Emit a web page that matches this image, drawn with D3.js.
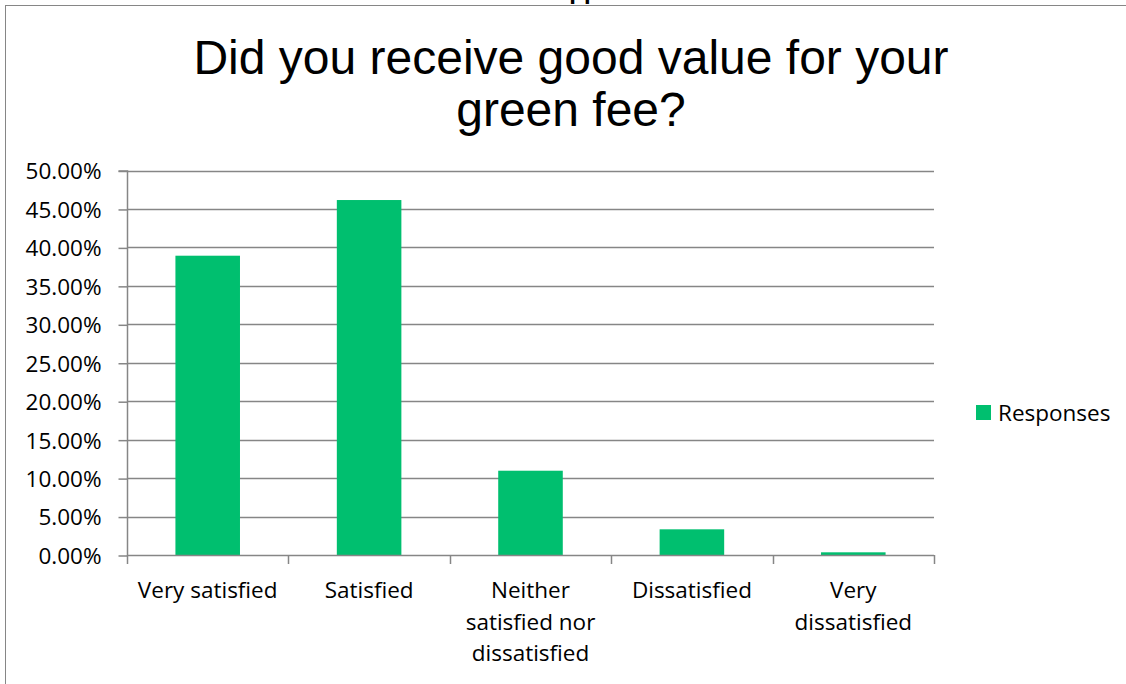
<!DOCTYPE html>
<html><head><meta charset="utf-8">
<script src="https://cdn.jsdelivr.net/npm/d3@7"></script>
<style>body{margin:0;background:#fff}svg{display:block}</style>
</head><body>
<script>
const categories = ["Very satisfied", "Satisfied", "Neither satisfied nor dissatisfied", "Dissatisfied", "Very dissatisfied"];
const categoryLines = [["Very satisfied"], ["Satisfied"], ["Neither", "satisfied nor", "dissatisfied"], ["Dissatisfied"], ["Very", "dissatisfied"]];
const responses = [0.3892, 0.4616, 0.1096, 0.0334, 0.0035];
const yTicks = [0, 0.05, 0.10, 0.15, 0.20, 0.25, 0.30, 0.35, 0.40, 0.45, 0.50];
const titleLines = ["Did you receive good value for your", "green fee?"];
const seriesName = "Responses";

const W = 1126, H = 684;
const svg = d3.select("body").append("svg").attr("width", W).attr("height", H);
const grey = "#868686", green = "#00BF6F";
const axisFont = "'Open Sans', 'Noto Sans', sans-serif";
const axisSize = 22.5;

// clipped header text above chart border
svg.append("text").attr("x", 552).attr("y", -1).attr("font-family", "'Liberation Sans', Arial, sans-serif")
  .attr("font-weight", "bold").attr("font-size", 24).attr("fill", "#000").text("Appendix");

// chart border
svg.append("rect").attr("x", 5.5).attr("y", 5.5).attr("width", W + 10).attr("height", H + 10)
  .attr("fill", "#fff").attr("stroke", grey).attr("stroke-width", 1);

// title
svg.append("g").selectAll("text").data(titleLines).join("text")
  .attr("x", 571).attr("y", (d, i) => 74 + i * 52).attr("text-anchor", "middle")
  .attr("font-family", "'Liberation Sans', Arial, sans-serif").attr("font-size", 48).attr("fill", "#000")
  .text(d => d);

const x = d3.scaleBand().domain(categories).range([127, 934]).paddingInner(0.6).paddingOuter(0.3);
const y = d3.scaleLinear().domain([0, 0.5]).range([555, 170.5]);

// gridlines
svg.append("g").selectAll("line").data(yTicks.filter(t => t > 0)).join("line")
  .attr("x1", 127).attr("x2", 934).attr("y1", d => Math.round(y(d)) + 0.5).attr("y2", d => Math.round(y(d)) + 0.5)
  .attr("stroke", grey).attr("stroke-width", 1.5);

// bars
svg.append("g").selectAll("rect").data(responses).join("rect")
  .attr("x", (d, i) => x(categories[i])).attr("width", x.bandwidth())
  .attr("y", d => y(d)).attr("height", d => y(0) - y(d)).attr("fill", green);

// y axis
const yAxis = d3.axisLeft(y).tickValues(yTicks).tickFormat(d => (d * 100).toFixed(2) + "%").tickSize(9).tickPadding(17);
const gy = svg.append("g").attr("transform", "translate(127.5,0.5)").call(yAxis);
gy.select(".domain").attr("stroke", grey).attr("stroke-width", 1.5).attr("d", `M-9,${y(0.5)}H0V${y(0)}`);
gy.selectAll(".tick line").attr("stroke", grey).attr("stroke-width", 1.5);
gy.selectAll(".tick text").attr("font-family", axisFont).attr("font-size", axisSize).attr("fill", "#000").attr("dy", "0.35em");

// x axis line and boundary ticks
const xBounds = d3.range(categories.length + 1).map(i => 127 + i * x.step());
svg.append("line").attr("x1", 127).attr("x2", 934).attr("y1", 555.5).attr("y2", 555.5).attr("stroke", grey).attr("stroke-width", 1.5);
svg.append("g").selectAll("line").data(xBounds).join("line")
  .attr("x1", d => Math.round(d) + 0.5).attr("x2", d => Math.round(d) + 0.5).attr("y1", 555).attr("y2", 564)
  .attr("stroke", grey).attr("stroke-width", 1.5);

// x labels
const xl = svg.append("g").selectAll("text").data(categories).join("text")
  .attr("text-anchor", "middle").attr("font-family", axisFont).attr("font-size", axisSize).attr("fill", "#000");
xl.each(function (d, i) {
  d3.select(this).selectAll("tspan").data(categoryLines[i]).join("tspan")
    .attr("x", x(d) + x.bandwidth() / 2).attr("y", (t, j) => 598 + j * 31.5).text(t => t);
});

// legend
svg.append("rect").attr("x", 976).attr("y", 405).attr("width", 15).attr("height", 15).attr("fill", green);
svg.append("text").attr("x", 998).attr("y", 413).attr("dy", "0.35em").attr("font-family", axisFont)
  .attr("font-size", axisSize).attr("fill", "#000").text(seriesName);
</script>
</body></html>
